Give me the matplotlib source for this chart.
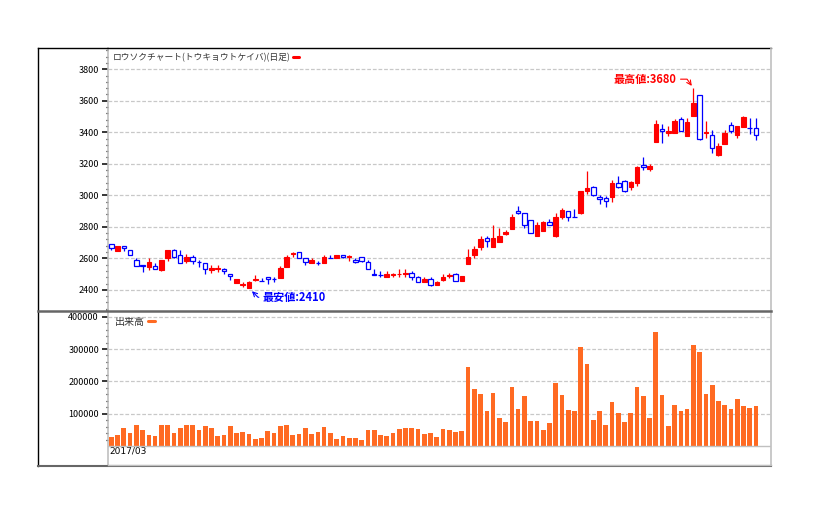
import matplotlib
matplotlib.use('Agg')
import matplotlib.pyplot as plt
import matplotlib.transforms as mtransforms
from matplotlib.lines import Line2D
import numpy as np

plt.rcParams['font.family'] = ['Noto Sans CJK JP', 'DejaVu Sans']

# daily candles, 2017/03 onwards
opens = [2689, 2649, 2679, 2653, 2588, 2556, 2548, 2552, 2527, 2599,
         2651, 2620, 2584, 2607, 2575, 2569, 2529, 2535, 2531, 2499,
         2446, 2432, 2412, 2465, 2455, 2480, 2467, 2478, 2548, 2628,
         2639, 2599, 2573, 2569, 2573, 2605, 2605, 2624, 2607, 2590,
         2607, 2577, 2503, 2497, 2482, 2497, 2499, 2501, 2505, 2480,
         2448, 2467, 2429, 2465, 2488, 2501, 2453, 2567, 2620, 2675,
         2730, 2675, 2706, 2755, 2789, 2901, 2886, 2842, 2744, 2776,
         2831, 2744, 2865, 2899, 2861, 2888, 3030, 3053, 2992, 2983,
         2992, 3078, 3091, 3051, 3080, 3193, 3169, 3341, 3421, 3394,
         3396, 3485, 3379, 3506, 3637, 3394, 3381, 3256, 3328, 3447,
         3385, 3436, 3425, 3428]
highs = [2690, 2679, 2680, 2653, 2603, 2556, 2601, 2571, 2590, 2653,
         2658, 2653, 2628, 2620, 2588, 2569, 2558, 2556, 2539, 2499,
         2470, 2450, 2455, 2497, 2472, 2480, 2484, 2552, 2620, 2643,
         2639, 2599, 2605, 2580, 2620, 2624, 2624, 2624, 2620, 2601,
         2607, 2588, 2533, 2520, 2520, 2510, 2533, 2531, 2520, 2490,
         2480, 2480, 2457, 2503, 2505, 2507, 2488, 2658, 2679, 2742,
         2744, 2812, 2795, 2780, 2882, 2932, 2886, 2842, 2829, 2839,
         2852, 2886, 2918, 2899, 2911, 3028, 3157, 3059, 3002, 2996,
         3095, 3123, 3097, 3093, 3186, 3243, 3197, 3478, 3453, 3440,
         3487, 3495, 3491, 3680, 3637, 3472, 3413, 3330, 3413, 3466,
         3438, 3504, 3491, 3491]
lows = [2652, 2649, 2647, 2618, 2552, 2516, 2527, 2531, 2520, 2586,
        2599, 2573, 2569, 2565, 2548, 2499, 2506, 2516, 2503, 2461,
        2446, 2417, 2410, 2453, 2455, 2436, 2451, 2478, 2548, 2607,
        2599, 2556, 2573, 2556, 2573, 2605, 2605, 2599, 2584, 2573,
        2575, 2535, 2497, 2482, 2482, 2484, 2484, 2482, 2463, 2448,
        2448, 2425, 2429, 2457, 2476, 2455, 2453, 2567, 2601, 2656,
        2675, 2675, 2706, 2749, 2789, 2882, 2791, 2759, 2744, 2776,
        2810, 2734, 2848, 2839, 2861, 2882, 3009, 2996, 2945, 2928,
        2960, 3047, 3023, 3036, 3059, 3161, 3152, 3341, 3335, 3377,
        3396, 3411, 3379, 3506, 3351, 3366, 3271, 3252, 3328, 3398,
        3366, 3436, 3389, 3351]
closes = [2668, 2679, 2668, 2618, 2552, 2552, 2577, 2531, 2590, 2653,
          2607, 2573, 2607, 2586, 2575, 2531, 2539, 2539, 2518, 2489,
          2470, 2436, 2451, 2469, 2455, 2467, 2467, 2537, 2607, 2636,
          2599, 2577, 2588, 2569, 2607, 2605, 2620, 2607, 2613, 2575,
          2586, 2535, 2497, 2497, 2501, 2501, 2503, 2505, 2480, 2448,
          2470, 2429, 2451, 2484, 2492, 2455, 2488, 2607, 2660, 2723,
          2708, 2730, 2742, 2770, 2865, 2886, 2810, 2759, 2812, 2831,
          2810, 2863, 2907, 2861, 2861, 3027, 3047, 3004, 2975, 2966,
          3078, 3055, 3030, 3085, 3180, 3182, 3186, 3453, 3411, 3411,
          3472, 3411, 3466, 3586, 3358, 3404, 3299, 3313, 3396, 3411,
          3438, 3497, 3425, 3385]
volumes = [28000, 34000, 56000, 40000, 65000, 49000, 34000, 31000, 65000, 65000,
           40000, 56000, 65000, 65000, 49000, 62000, 56000, 31000, 34000, 62000,
           40000, 43000, 37000, 22000, 25000, 46000, 40000, 62000, 65000, 34000,
           37000, 56000, 37000, 43000, 59000, 40000, 22000, 31000, 25000, 25000,
           18500, 49000, 49000, 34000, 31000, 40000, 52500, 56000, 56000, 52500,
           37000, 40000, 28000, 52500, 49000, 43000, 46000, 244000, 176000, 161000,
           108000, 164000, 86500, 74000, 182000, 114000, 154500, 77000, 77000, 49000,
           71000, 195000, 157500, 111000, 108000, 306000, 253000, 80000, 108000, 65000,
           136000, 102000, 74000, 102000, 182000, 154500, 86500, 352000, 157500, 62000,
           127000, 108000, 114000, 312000, 290000, 161000, 188500, 139000, 127000, 114000,
           145000, 124000, 117000, 124000]

date_label = '2017/03'
price_title = 'ロウソクチャート(トウキョウトケイバ)(日足)'
volume_title = '出来高'
price_ticks = [2400, 2600, 2800, 3000, 3200, 3400, 3600, 3800]
volume_ticks = [100000, 200000, 300000, 400000]

UP = '#ff0000'
DOWN = '#0000ff'
VOL = '#ff6a22'
GRID = '#c8c8c8'
AXIS = '#c0c0c0'

W, H = 815, 520
def fx(px):
    return px / W
def fy(py):
    return 1 - py / H

fig = plt.figure(figsize=(W / 100, H / 100), dpi=100)
ax = fig.add_axes([fx(108), fy(310), fx(771) - fx(108), fy(48) - fy(310)])
axv = fig.add_axes([fx(108), fy(465), fx(771) - fx(108), fy(310) - fy(465)])

o = np.array(opens)
h = np.array(highs)
l = np.array(lows)
c = np.array(closes)
x = np.arange(len(o))
up = c > o
cols = np.where(up, UP, DOWN)

ax.vlines(x, l, h, colors=cols, lw=0.9, zorder=2)
body_bottom = np.minimum(o, c)
body_h = np.abs(c - o)
ax.bar(x[up], body_h[up], bottom=body_bottom[up], width=0.72,
       color=UP, edgecolor=UP, lw=0.8, zorder=3)
ax.bar(x[~up], body_h[~up], bottom=body_bottom[~up], width=0.72,
       facecolor='white', edgecolor=DOWN, lw=0.9, zorder=3)

axv.bar(x, volumes, width=0.75, color=VOL, zorder=3)
axv.axhline(0, color=AXIS, lw=1, zorder=4)

for a in (ax, axv):
    a.set_xlim(-0.53, 105.4)
    a.set_xticks([])
    for s in ('top', 'right', 'bottom'):
        a.spines[s].set_visible(False)
    a.spines['left'].set_color(AXIS)
    a.spines['left'].set_linewidth(1.2)
    a.set_axisbelow(True)
    a.grid(axis='y', which='major', color=GRID, ls=(0, (3, 1.5)), lw=0.9)
    a.tick_params(axis='y', which='major', length=4.5, width=1.1, color='black',
                  labelsize=6.5, pad=2)
    a.tick_params(axis='y', which='minor', length=1.3, width=0.9, color='black')

ax.set_ylim(2272, 3935)
ax.set_yticks(price_ticks)
ax.set_yticks(np.arange(2280, 3935, 40), minor=True)

axv.set_ylim(-58800, 420700)
axv.set_yticks(volume_ticks)
axv.set_yticklabels([str(v) for v in volume_ticks])
axv.set_yticks(np.arange(20000, 420001, 20000), minor=True)

trans = mtransforms.blended_transform_factory(axv.transAxes, axv.transData)
axv.text(0.002, -17000, date_label, transform=trans, fontsize=6.5,
         ha='left', va='center', family=['DejaVu Sans'])

# legends: text first, marker after
lg = ax.legend([Line2D([], [], color=UP, lw=2.2, solid_capstyle='round')], [price_title],
               loc='upper left', markerfirst=False, frameon=False, fontsize=6.3,
               handlelength=0.7, handletextpad=0.3, borderaxespad=0.35, borderpad=0.2)
for t in lg.get_texts():
    t.set_color('#333333')
lg2 = axv.legend([Line2D([], [], color=VOL, lw=2.2, solid_capstyle='round')], [volume_title],
                 loc='upper left', markerfirst=False, frameon=False, fontsize=7.2,
                 handlelength=0.7, handletextpad=0.3, borderaxespad=0.35, borderpad=0.3)
for t in lg2.get_texts():
    t.set_color('#333333')

# high / low markers
ih = int(np.argmax(h))
il = int(np.argmin(l))
ax.annotate(f'最高値:{h[ih]}', xy=(ih, h[ih]), xytext=(-17, 9), textcoords='offset pixels',
            ha='right', va='center', color=UP, fontsize=8, fontweight='bold',
            arrowprops=dict(arrowstyle='->', color=UP, lw=0.8, shrinkA=1, shrinkB=2,
                            connectionstyle='angle,angleA=0,angleB=-55,rad=0'))
ax.annotate(f'最安値:{l[il]}', xy=(il, l[il]), xytext=(14, -9), textcoords='offset pixels',
            ha='left', va='center', color=DOWN, fontsize=8, fontweight='bold',
            arrowprops=dict(arrowstyle='->', color=DOWN, lw=0.8, shrinkA=1, shrinkB=3,
                            connectionstyle='angle,angleA=0,angleB=135,rad=0'))

# outer frame and panel separator
fig.add_artist(Line2D([fx(38), fx(771)], [fy(48), fy(48)], color='black', lw=1))
fig.add_artist(Line2D([fx(38), fx(38)], [fy(48), fy(466)], color='black', lw=1))
fig.add_artist(Line2D([fx(771), fx(771)], [fy(48), fy(466)], color=AXIS, lw=1.2))
fig.add_artist(Line2D([fx(38), fx(771)], [fy(466), fy(466)], color='#666666', lw=1.5))
fig.add_artist(Line2D([fx(108), fx(771)], [fy(464.5), fy(464.5)], color=AXIS, lw=1))
fig.add_artist(Line2D([fx(38), fx(771)], [fy(310.5), fy(310.5)], color='#666666', lw=1.8))

fig.savefig('out.png', dpi=100)
